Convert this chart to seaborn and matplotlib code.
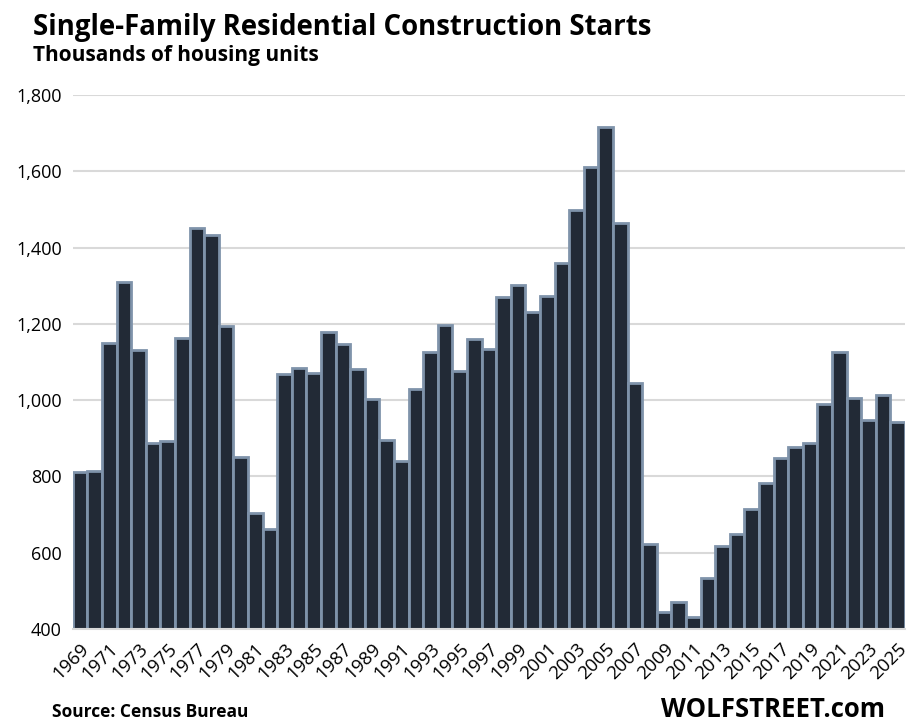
import numpy as np
import pandas as pd
import seaborn as sns
import matplotlib.pyplot as plt

years = list(range(1969, 2026))
starts = [811, 815, 1151, 1309, 1132, 888, 892, 1162, 1451, 1433,
          1194, 852, 705, 662, 1068, 1084, 1072, 1179, 1146, 1081,
          1003, 895, 840, 1030, 1126, 1198, 1076, 1161, 1134, 1271,
          1302, 1231, 1273, 1359, 1499, 1611, 1716, 1465, 1046, 622,
          445, 471, 431, 535, 618, 648, 715, 782, 849, 876,
          888, 991, 1127, 1005, 947, 1013, 942]

df = pd.DataFrame({"year": years, "starts": starts})

sns.set_style("white")
plt.rcParams['font.family'] = ['Open Sans', 'DejaVu Sans']
plt.rcParams['text.color'] = 'black'
plt.rcParams['xtick.color'] = 'black'
plt.rcParams['ytick.color'] = 'black'

fig = plt.figure(figsize=(9.1, 7.26), dpi=100)
ax = fig.add_axes([0.080, 0.1336, 0.9145, 0.7355])

sns.barplot(data=df, x="year", y="starts", width=1, color="#222a36",
            edgecolor="#7f93aa", linewidth=2, saturation=1, ax=ax)

ax.set_ylim(400, 1800)
ax.set_xlim(-0.5, len(years) - 0.5)
ax.set_yticks(range(400, 1801, 200))
ax.set_yticklabels([f"{v:,}" for v in range(400, 1801, 200)], fontsize=13)
ax.yaxis.grid(True, color="#d9d9d9", linewidth=1.5)
ax.set_axisbelow(True)
ax.tick_params(axis="y", length=0, pad=8)

ax.set_xticks(np.arange(len(years)))
ax.set_xticklabels([str(y) if (y - 1969) % 2 == 0 else "" for y in years],
                   rotation=45, ha="right", rotation_mode="anchor", fontsize=13.5)
ax.tick_params(axis="x", length=6, color="#d9d9d9", width=1.5, pad=2)
ax.tick_params(axis="x", labelcolor="black")
ax.set_xlabel("")
ax.set_ylabel("")

for s in ["top", "right", "left"]:
    ax.spines[s].set_visible(False)
ax.spines["bottom"].set_color("#d9d9d9")
ax.spines["bottom"].set_linewidth(1.5)

fig.text(0.036, 0.982, "Single-Family Residential Construction Starts",
         fontsize=19.8, fontweight="bold", va="top")
fig.text(0.036, 0.938, "Thousands of housing units",
         fontsize=15, fontweight="bold", va="top")
fig.text(0.057, 0.012, "Source: Census Bureau", fontsize=12.5, fontweight="bold")
fig.text(0.972, 0.012, "WOLFSTREET.com", fontsize=18.5, fontweight="bold", ha="right")

fig.savefig("out.png", dpi=100)
